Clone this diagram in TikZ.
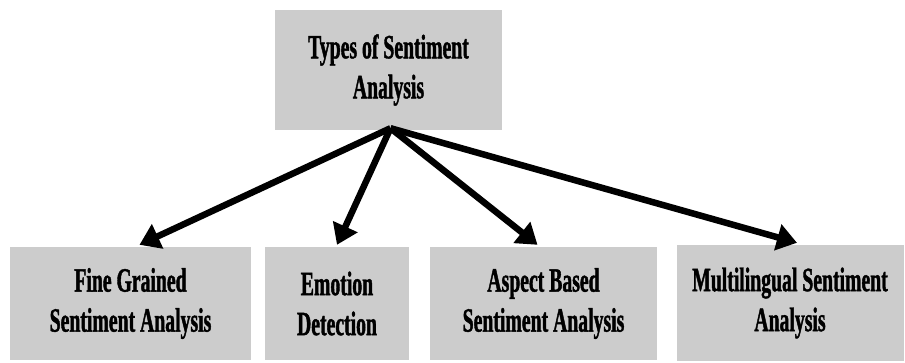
\documentclass[tikz,border=0pt]{standalone}
\usepackage{fontspec}
\setmainfont{Liberation Serif}[FakeStretch=0.58,FakeBold=1.2]
\usetikzlibrary{arrows.meta}
\definecolor{boxgray}{RGB}{204,204,204}
\tikzset{
  catbox/.style={fill=boxgray, draw=none, inner sep=0pt, align=center,
    font=\fontsize{34}{40}\selectfont\bfseries},
  bigarrow/.style={line width=6.5pt, -{Triangle[length=20pt,width=26pt]}}
}
\begin{document}
\begin{tikzpicture}[x=1pt,y=-1pt]
\useasboundingbox (0,0) rectangle (905,363);
\node[catbox, minimum width=227pt, minimum height=120pt] (top) at (388.5,70) {Types of Sentiment\\Analysis};
\node[catbox, minimum width=241pt, minimum height=113pt] (b1) at (130.5,303.5) {Fine Grained\\Sentiment Analysis};
\node[catbox, minimum width=144pt, minimum height=113pt] (b2) at (337,303.5) {Emotion\\Detection};
\node[catbox, minimum width=227pt, minimum height=113pt] (b3) at (543.5,303.5) {Aspect Based\\Sentiment Analysis};
\node[catbox, minimum width=227pt, minimum height=116pt] (b4) at (790,303) {Multilingual Sentiment\\Analysis};
\coordinate (src) at ([xshift=2pt,yshift=2pt]top.south);
\draw[bigarrow] (src) -- ([xshift=9pt,yshift=2pt]b1.north);
\draw[bigarrow] (src) -- ([yshift=2pt]b2.north);
\draw[bigarrow] (src) -- ([xshift=-6pt,yshift=2pt]b3.north);
\draw[bigarrow] (src) -- ([xshift=7pt,yshift=2pt]b4.north);
\end{tikzpicture}
\end{document}
